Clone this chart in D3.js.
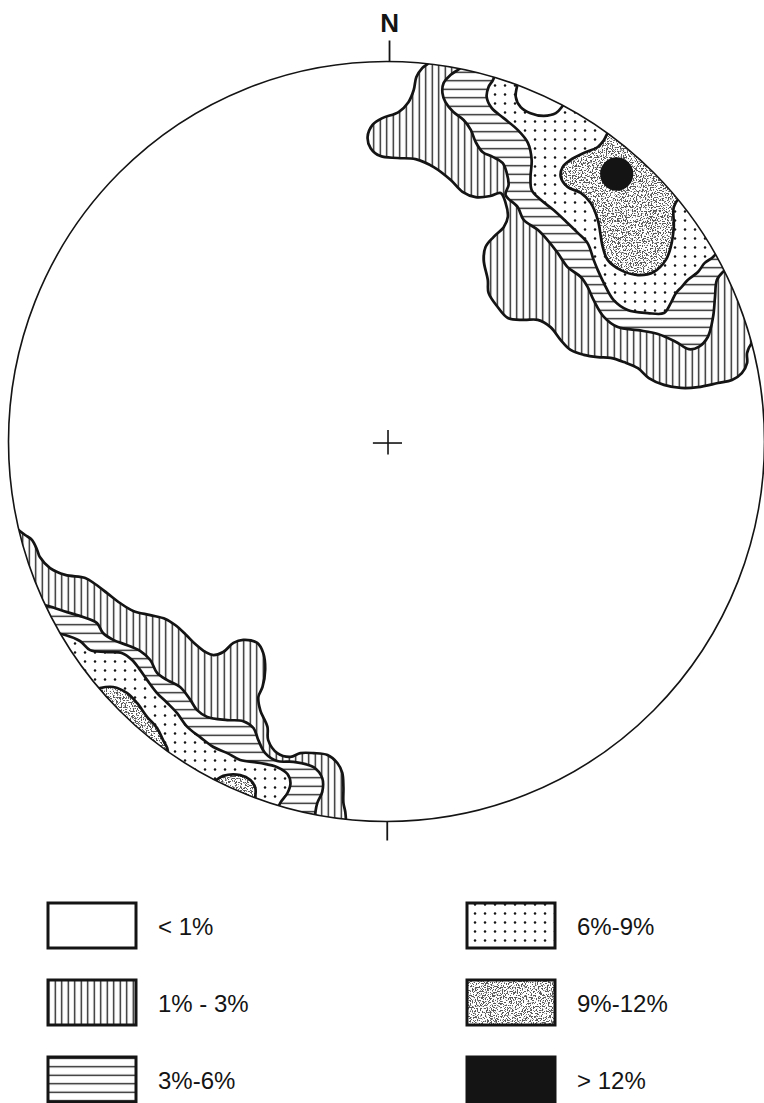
<!DOCTYPE html>
<html><head><meta charset="utf-8">
<script src="https://cdnjs.cloudflare.com/ajax/libs/d3/7.8.5/d3.min.js"></script>
<style>html,body{margin:0;padding:0;background:#fff;} svg{display:block}</style>
</head><body><script>
// ---- DATA (net coordinates: radius = 100, x east, y north) ----
const levelLabels = ["< 1%", "1% - 3%", "3%-6%", "6%-9%", "9%-12%", "> 12%"];
const legendLevels = [0, 1, 2, 3, 4, 5];

// north-east cluster
const neLevel1 = [[11.7,101.7],[11.1,99.6],[9.5,98.3],[7.9,95.9],[7.2,92.5],[5.8,89.3],[3.2,86.7],[-1.1,85.1],[-3.7,83.3],[-5.0,80.1],[-4.2,77.2],[-1.6,75.1],[2.9,74.6],[7.7,74.3],[12.5,72.2],[17.0,68.8],[20.1,65.7],[23.6,64.3],[27.5,64.6],[30.2,65.4],[31.5,62.8],[32.1,59.1],[31.0,56.4],[28.3,53.8],[26.2,51.2],[25.7,47.8],[26.8,42.5],[27.0,39.1],[29.4,35.4],[32.1,32.5],[36.3,32.0],[40.0,32.0],[43.4,30.1],[46.1,26.7],[48.7,24.1],[52.2,22.8],[55.9,22.2],[59.3,22.0],[62.8,20.9],[66.5,19.3],[69.4,16.7],[73.4,14.9],[77.9,14.1],[82.4,14.3],[87.7,15.4],[91.4,16.2],[94.0,18.0],[95.4,20.7],[95.4,23.3],[96.7,25.9],[103.0,29.3]];
const neLevel2 = [[20.9,101.7],[20.1,98.8],[17.0,96.5],[15.1,94.3],[14.8,91.7],[15.6,89.3],[17.7,86.7],[20.4,84.6],[22.3,82.0],[23.6,78.8],[25.4,76.2],[28.1,74.9],[30.7,73.3],[31.8,70.7],[32.3,67.5],[31.5,64.9],[34.7,61.7],[36.3,58.3],[40.0,55.7],[42.6,53.0],[45.3,49.6],[47.9,45.9],[51.4,43.3],[53.2,40.7],[54.8,37.2],[57.5,32.8],[61.2,30.1],[66.5,29.3],[71.8,28.3],[76.6,26.2],[80.0,24.3],[82.6,24.9],[85.0,27.5],[86.4,32.8],[86.9,38.0],[87.4,42.5],[89.0,44.6],[92.5,47.2]];
const neLevel3 = [[28.9,99.1],[28.3,95.4],[27.0,93.3],[26.5,90.7],[27.8,87.8],[31.0,85.1],[34.7,82.0],[37.4,78.6],[38.4,74.1],[38.1,69.6],[38.4,66.2],[40.8,63.6],[44.2,60.9],[47.9,57.5],[50.6,54.9],[53.2,52.2],[54.8,47.8],[55.9,45.1],[57.5,41.7],[60.1,37.2],[63.8,34.6],[69.1,33.8],[73.4,33.8],[75.2,36.4],[76.6,39.1],[78.1,40.7],[79.7,42.5],[82.4,44.6],[84.2,47.0],[86.1,48.3],[87.4,49.6],[90.6,52.0]];
const neGap = [[35.0,95.1],[34.2,90.7],[35.5,88.0],[38.1,86.4],[41.6,85.7],[44.8,86.4],[46.6,88.3],[47.7,89.9]];
const neLevel4 = [[59.9,83.0],[58.5,81.2],[57.5,79.3],[55.9,77.5],[52.2,75.9],[48.7,74.1],[46.6,72.2],[46.1,69.6],[47.9,67.0],[51.4,65.4],[54.0,62.8],[55.9,58.3],[57.2,51.2],[58.5,47.8],[62.0,45.1],[66.5,43.8],[70.7,44.6],[73.9,47.8],[75.2,51.2],[76.0,56.4],[76.0,61.7],[77.4,64.1],[80.5,66.7]];
const nePeak = [60.9, 70.4];
const nePeakRadius = 4.4;

// south-west cluster
const swLevel1 = [[-99.1,-22.0],[-95.6,-24.6],[-93.8,-25.9],[-92.4,-28.6],[-91.7,-30.4],[-89.0,-33.3],[-85.0,-35.1],[-79.7,-35.9],[-77.1,-37.5],[-73.9,-39.9],[-70.5,-42.5],[-67.0,-44.6],[-62.5,-45.7],[-58.5,-46.7],[-55.9,-48.3],[-53.2,-50.7],[-50.6,-53.3],[-47.9,-55.4],[-45.8,-56.2],[-43.2,-55.4],[-40.5,-53.0],[-37.9,-52.2],[-34.2,-53.0],[-32.6,-55.7],[-32.1,-60.1],[-32.8,-64.6],[-33.9,-67.2],[-33.4,-70.7],[-31.5,-75.1],[-31.3,-78.6],[-28.9,-82.0],[-25.4,-83.0],[-22.8,-82.0],[-19.3,-82.0],[-15.6,-82.5],[-13.0,-84.6],[-11.7,-87.2],[-11.4,-90.9],[-11.4,-95.1],[-10.9,-97.5],[-10.6,-102.2]];
const swLevel2 = [[-91.7,-42.8],[-89.5,-43.3],[-84.5,-44.9],[-80.3,-46.2],[-76.6,-47.8],[-75.0,-50.4],[-72.3,-52.2],[-68.6,-53.6],[-65.2,-55.1],[-62.5,-57.5],[-60.7,-60.9],[-58.0,-62.8],[-54.6,-64.6],[-51.9,-68.0],[-50.1,-70.7],[-47.4,-72.5],[-42.1,-73.3],[-37.9,-73.6],[-35.2,-75.4],[-33.9,-78.6],[-32.1,-82.0],[-28.9,-84.1],[-24.6,-84.3],[-19.3,-85.7],[-17.0,-88.6],[-17.0,-92.2],[-18.3,-95.1],[-18.8,-97.5],[-19.1,-102.2]];
const swLevel3 = [[-87.7,-50.4],[-85.0,-50.9],[-81.1,-52.5],[-78.4,-54.9],[-74.4,-55.4],[-69.9,-55.7],[-67.3,-57.5],[-65.2,-60.1],[-63.3,-62.8],[-60.7,-66.2],[-58.0,-68.8],[-55.4,-71.5],[-52.7,-75.1],[-49.3,-77.8],[-45.8,-80.4],[-42.1,-82.0],[-38.7,-83.8],[-33.4,-84.6],[-28.9,-85.7],[-26.2,-87.5],[-25.4,-89.9],[-26.2,-92.5],[-28.1,-95.1],[-28.9,-97.0],[-29.4,-100.9]];
const swLevel4a = [[-77.1,-65.4],[-75.8,-64.9],[-72.3,-64.6],[-68.6,-66.2],[-66.0,-68.8],[-63.3,-72.5],[-60.7,-75.4],[-59.1,-78.6],[-58.0,-80.7],[-57.7,-82.8]];
const swLevel4b = [[-46.1,-89.9],[-45.3,-89.3],[-43.2,-88.0],[-38.7,-87.8],[-36.0,-89.1],[-34.7,-91.2],[-34.7,-93.6],[-34.7,-95.7]];

// ---- DRAWING ----
const W = 764, H = 1103;
const svg = d3.select("body").append("svg").attr("width", W).attr("height", H);
const x = d3.scaleLinear().domain([-100, 100]).range([386.5 - 378, 386.5 + 378]);
const y = d3.scaleLinear().domain([-100, 100]).range([441.5 + 380, 441.5 - 380]);

const defs = svg.append("defs");
const ink = "#141414";
// vertical hatch
const pv = defs.append("pattern").attr("id", "vh").attr("patternUnits", "userSpaceOnUse").attr("width", 6.5).attr("height", 10);
pv.append("rect").attr("width", 6.5).attr("height", 10).attr("fill", "#fff");
pv.append("line").attr("x1", 3.25).attr("x2", 3.25).attr("y1", 0).attr("y2", 10).attr("stroke", ink).attr("stroke-width", 1.3);
// horizontal hatch
const ph = defs.append("pattern").attr("id", "hh").attr("patternUnits", "userSpaceOnUse").attr("width", 10).attr("height", 8.5);
ph.append("rect").attr("width", 10).attr("height", 8.5).attr("fill", "#fff");
ph.append("line").attr("y1", 4.25).attr("y2", 4.25).attr("x1", 0).attr("x2", 10).attr("stroke", ink).attr("stroke-width", 1.3);
// dots
const pd = defs.append("pattern").attr("id", "dt").attr("patternUnits", "userSpaceOnUse").attr("width", 10).attr("height", 9);
pd.append("rect").attr("width", 10).attr("height", 9).attr("fill", "#fff");
pd.append("circle").attr("cx", 5).attr("cy", 4.5).attr("r", 1.25).attr("fill", ink);
// stipple filter
const f = defs.append("filter").attr("id", "stip").attr("x", "-5%").attr("y", "-5%").attr("width", "110%").attr("height", "110%")
  .attr("color-interpolation-filters", "sRGB");
f.append("feTurbulence").attr("type", "fractalNoise").attr("baseFrequency", 0.8).attr("numOctaves", 2).attr("seed", 5).attr("result", "n");
f.append("feColorMatrix").attr("in", "n").attr("type", "matrix")
  .attr("values", "0 0 0 0 0.35  0 0 0 0 0.35  0 0 0 0 0.35  -16 0 0 0 7.7").attr("result", "d");
f.append("feComposite").attr("in", "d").attr("in2", "SourceGraphic").attr("operator", "in");

// clip to net
defs.append("clipPath").attr("id", "net").append("ellipse")
  .attr("cx", x(0)).attr("cy", y(0)).attr("rx", x(100) - x(0)).attr("ry", y(-100) - y(0));

const curve = d3.line().x(d => x(d[0])).y(d => y(d[1])).curve(d3.curveCatmullRom.alpha(0.5));
const straight = d3.line().x(d => x(d[0])).y(d => y(d[1]));
function closedPath(pts) {
  const s = pts[0], e = pts[pts.length - 1];
  const a0 = Math.atan2(e[1], e[0]), a1 = Math.atan2(s[1], s[0]);
  let dA = a1 - a0;
  while (dA > Math.PI) dA -= 2 * Math.PI;
  while (dA < -Math.PI) dA += 2 * Math.PI;
  const arc = d3.range(0, 13).map(i => { const a = a0 + dA * i / 12; return [150 * Math.cos(a), 150 * Math.sin(a)]; });
  return curve(pts) + straight(arc).replace(/^M/, "L") + "Z";
}

const fills = {0: "#fff", 1: "url(#vh)", 2: "url(#hh)", 3: "url(#dt)", 4: "#fff", 5: ink};
const regions = [
  [neLevel1, 1], [neLevel2, 2], [neLevel3, 3], [neGap, 0], [neLevel4, 4],
  [swLevel1, 1], [swLevel2, 2], [swLevel3, 3], [swLevel4a, 4], [swLevel4b, 4]
];

const g = svg.append("g").attr("clip-path", "url(#net)");
regions.forEach(([pts, lev]) => {
  const d = closedPath(pts);
  g.append("path").attr("d", d).attr("fill", fills[lev]);
  if (lev === 4) g.append("path").attr("d", d).attr("fill", "#000").attr("filter", "url(#stip)");
  g.append("path").attr("d", curve(pts)).attr("fill", "none").attr("stroke", ink)
    .attr("stroke-width", 2.7).attr("stroke-linejoin", "round").attr("stroke-linecap", "round");
});
g.append("ellipse").attr("cx", x(nePeak[0])).attr("cy", y(nePeak[1]))
  .attr("rx", x(nePeakRadius) - x(0)).attr("ry", y(0) - y(nePeakRadius)).attr("fill", ink);

// net outline
svg.append("ellipse").attr("cx", x(0)).attr("cy", y(0)).attr("rx", x(100) - x(0)).attr("ry", y(-100) - y(0))
  .attr("fill", "none").attr("stroke", ink).attr("stroke-width", 1.6);
// ticks + centre cross
svg.append("line").attr("x1", x(0.8)).attr("x2", x(0.8)).attr("y1", y(100) - 21).attr("y2", y(100)).attr("stroke", ink).attr("stroke-width", 1.8);
svg.append("line").attr("x1", x(0.2)).attr("x2", x(0.2)).attr("y1", y(-100)).attr("y2", y(-100) + 19).attr("stroke", ink).attr("stroke-width", 1.8);
svg.append("line").attr("x1", x(-3.6)).attr("x2", x(4.1)).attr("y1", y(-0.4)).attr("y2", y(-0.4)).attr("stroke", ink).attr("stroke-width", 1.6);
svg.append("line").attr("x1", x(0.4)).attr("x2", x(0.4)).attr("y1", y(3.0)).attr("y2", y(-3.4)).attr("stroke", ink).attr("stroke-width", 1.6);
svg.append("text").attr("x", x(0.8)).attr("y", 32).attr("text-anchor", "middle")
  .attr("font-family", "'Liberation Sans', Arial, sans-serif").attr("font-weight", "bold").attr("font-size", 26).attr("fill", ink).text("N");

// legend
const leg = svg.append("g");
legendLevels.forEach((lev, i) => {
  const col = i < 3 ? 0 : 1, row = i % 3;
  const bx = col === 0 ? 48 : 467, by = 903 + row * 77, bw = 88, bh = 45;
  leg.append("rect").attr("x", bx).attr("y", by).attr("width", bw).attr("height", bh).attr("fill", fills[lev]);
  if (lev === 4) leg.append("rect").attr("x", bx).attr("y", by).attr("width", bw).attr("height", bh).attr("fill", "#000").attr("filter", "url(#stip)");
  leg.append("rect").attr("x", bx).attr("y", by).attr("width", bw).attr("height", bh)
    .attr("fill", "none").attr("stroke", ink).attr("stroke-width", 3);
  leg.append("text").attr("x", bx + bw + 22).attr("y", by + bh / 2 + 9)
    .attr("font-family", "'Liberation Sans', Arial, sans-serif").attr("font-size", 24).attr("fill", ink)
    .text(levelLabels[i]);
});
</script></body></html>
